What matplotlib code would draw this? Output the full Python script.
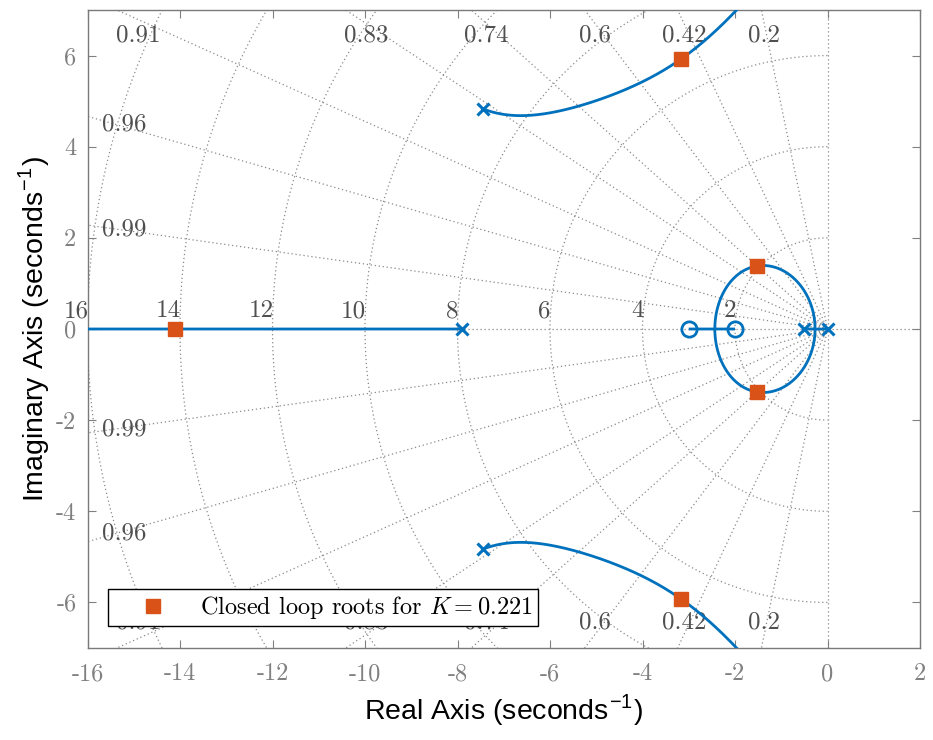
import numpy as np
import matplotlib
matplotlib.use("Agg")
import matplotlib.pyplot as plt
from matplotlib.ticker import FixedLocator, FuncFormatter

# ---- open-loop system G(s) = plant_gain * N(s) / D(s) ----
open_loop_poles = [0.0, -0.5, -7.9, -7.45 + 4.83j, -7.45 - 4.83j, -56.0]
open_loop_zeros = [-2.0, -3.0]
plant_gain = 1.137e5
K_design = 0.221

# s-plane grid
damping_values = [0.2, 0.42, 0.6, 0.74, 0.83, 0.91, 0.96, 0.99]
damping_labels = ["0.2", "0.42", "0.6", "0.74", "0.83", "0.91", "0.96", "0.99"]
wn_values = [2, 4, 6, 8, 10, 12, 14, 16]
wn_labels = ["2", "4", "6", "8", "10", "12", "14", "16"]

x_ticks = [-16, -14, -12, -10, -8, -6, -4, -2, 0, 2]
y_ticks = [-6, -4, -2, 0, 2, 4, 6]
x_limits = (-16, 2)
y_limits = (-7, 7)

LOCUS_BLUE = "#0072BD"
ROOT_ORANGE = "#D95319"
GRID_GRAY = "#8a8a8a"
GRID_TEXT = "#505050"
TICK_GRAY = "#808080"

plt.rcParams["mathtext.fontset"] = "cm"
plt.rcParams["axes.unicode_minus"] = False

den = np.real(np.poly(open_loop_poles))
num = np.real(np.poly(open_loop_zeros))


def char_roots(k):
    return np.roots(np.polyadd(den, k * num))


def root_locus(ks):
    prev = np.roots(den)
    out = [prev]
    for k in ks:
        r = char_roots(k)
        d = np.abs(prev[:, None] - r[None, :])
        idx = np.empty(len(prev), dtype=int)
        for _ in range(len(prev)):
            i, j = np.unravel_index(np.argmin(d), d.shape)
            idx[i] = j
            d[i, :] = np.inf
            d[:, j] = np.inf
        r = r[idx]
        out.append(r)
        prev = r
    return np.array(out)


# gain sweep, refined around break-away / break-in points
ks = list(np.logspace(-4, 10, 20000))
crit = np.roots(np.polysub(np.polymul(num, np.polyder(den)),
                           np.polymul(den, np.polyder(num))))
for s0 in crit:
    if abs(s0.imag) < 1e-6:
        k0 = -np.polyval(den, s0.real) / np.polyval(num, s0.real)
        if k0 > 0:
            offs = np.logspace(-9, -1, 300)
            ks += list(k0 * (1 - offs)) + [k0] + list(k0 * (1 + offs))
ks = np.unique(np.array(ks))
branches = root_locus(ks)

cl_roots = char_roots(plant_gain * K_design)

fig = plt.figure(figsize=(9.33, 7.40), dpi=100)
ax = fig.add_axes([87.5 / 933, 92 / 740, 832.5 / 933, 638 / 740])
ax.set_xlim(*x_limits)
ax.set_ylim(*y_limits)

grid_kw = dict(color=GRID_GRAY, lw=0.9, ls=(0, (1, 2.2)), zorder=1)

# constant damping rays
R = 40.0
for z in damping_values:
    th = np.arccos(z)
    for sgn in (1, -1):
        ax.plot([0, -R * np.cos(th)], [0, sgn * R * np.sin(th)], **grid_kw)
ax.plot([x_limits[0], x_limits[1]], [0, 0], **grid_kw)
ax.plot([0, 0], [y_limits[0], y_limits[1]], **grid_kw)

# constant natural-frequency semicircles
phi = np.linspace(np.pi / 2, 3 * np.pi / 2, 400)
for wn in wn_values:
    ax.plot(wn * np.cos(phi), wn * np.sin(phi), **grid_kw)

txt_kw = dict(fontfamily="cmr10", fontsize=18, color=GRID_TEXT, zorder=2)
for z, lab in zip(damping_values, damping_labels):
    th = np.arccos(z)
    x_exit = -y_limits[1] / np.tan(th)
    if x_exit > x_limits[0]:
        xl = -6.7 / np.tan(th)
        if x_exit < x_limits[0] + 1.0:
            xl -= 0.2
        for sgn in (1, -1):
            ax.text(xl, sgn * 6.45, lab, ha="center", va="center", **txt_kw)
    else:
        yl = 15.4 * np.tan(th)
        for sgn in (1, -1):
            ax.text(-15.2, sgn * yl, lab, ha="center", va="center", **txt_kw)

for wn, lab in zip(wn_values, wn_labels):
    ax.text(-wn + 0.02, 0.26, lab, ha="right", va="baseline",
            clip_on=False, **txt_kw)

# root locus branches
for b in range(branches.shape[1]):
    ax.plot(branches[:, b].real, branches[:, b].imag, color=LOCUS_BLUE,
            lw=2.0, zorder=3, solid_capstyle="butt")

pz = np.array(open_loop_poles)
ax.plot(pz.real, pz.imag, ls="none", marker="x", ms=8, mew=2.2,
        color=LOCUS_BLUE, zorder=4)
zz = np.array(open_loop_zeros)
ax.plot(zz.real, np.zeros_like(zz), ls="none", marker="o", ms=11, mew=2.0,
        mfc="none", mec=LOCUS_BLUE, zorder=4)

ax.plot(cl_roots.real, cl_roots.imag, ls="none", marker="s", ms=10,
        color=ROOT_ORANGE, mec=ROOT_ORANGE, zorder=5,
        label=r"Closed loop roots for $K = %.3f$" % K_design)

leg = ax.legend(loc="lower left", bbox_to_anchor=(20.5 / 832.5, 22 / 638),
                borderaxespad=0, frameon=True, fancybox=False, framealpha=1,
                edgecolor="black", handlelength=3.3, handletextpad=0.3,
                borderpad=0.2, numpoints=1,
                prop={"family": "cmr10", "size": 17.5})
leg.get_frame().set_linewidth(1.0)
leg.set_zorder(10)

ax.xaxis.set_major_locator(FixedLocator(x_ticks))
ax.yaxis.set_major_locator(FixedLocator(y_ticks))
fmt = FuncFormatter(lambda v, _: "%d" % v)
ax.xaxis.set_major_formatter(fmt)
ax.yaxis.set_major_formatter(fmt)
ax.tick_params(direction="in", length=6, width=0.8, color=TICK_GRAY,
               top=True, right=True, labelsize=17.5, labelcolor=TICK_GRAY,
               labelfontfamily="cmr10")
ax.tick_params(axis="x", pad=11)
ax.tick_params(axis="y", pad=8)
for sp in ax.spines.values():
    sp.set_color("#7a7a7a")
    sp.set_linewidth(1.0)

ax.set_xlabel(r"Real Axis (seconds$^{\mathregular{-1}}$)",
              fontfamily="Liberation Sans", fontsize=20.5, labelpad=6)
ax.set_ylabel(r"Imaginary Axis (seconds$^{\mathregular{-1}}$)",
              fontfamily="Liberation Sans", fontsize=20.5, labelpad=2)

fig.savefig("out.png", dpi=100, facecolor="white")
